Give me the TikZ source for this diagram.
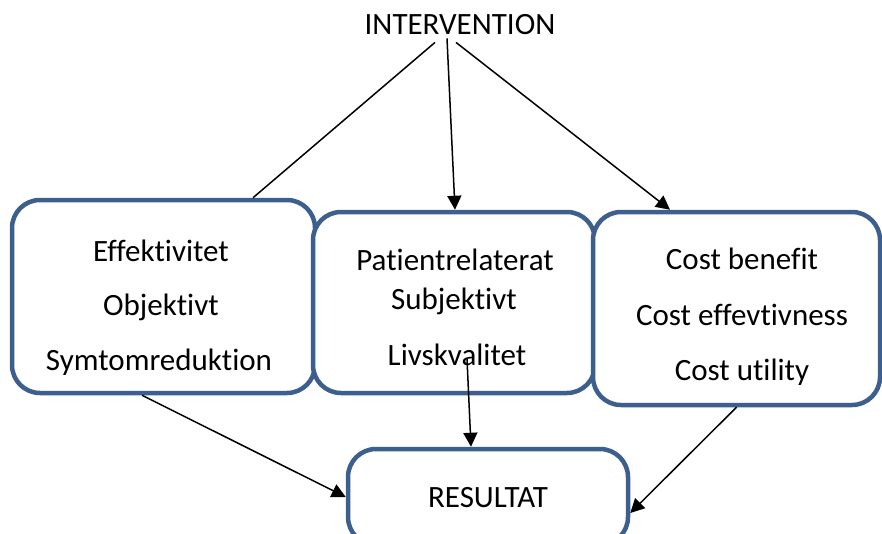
\documentclass[tikz,border=0pt]{standalone}
\usepackage{fontspec}
\setmainfont{Carlito}[Ligatures={NoCommon,NoRare,NoContextual}]
\usetikzlibrary{arrows.meta}
\definecolor{boxblue}{HTML}{3C5F8E}
\tikzset{
  box/.style={draw=boxblue,line width=4.5pt,rounded corners=28pt,fill=white,inner sep=0pt},
  txt/.style={font=\fontsize{31}{37}\selectfont,inner sep=0pt,anchor=base},
  link/.style={line width=1.5pt},
  arr/.style={link,-{Triangle[length=14pt,width=14pt]}}
}
\begin{document}
\begin{tikzpicture}[x=1pt,y=-1pt]
        \clip (0,0) rectangle (882,533);
        \node[box,minimum width=303pt,minimum height=193pt] (eff) at (163.5,296.5) {};
        \node[box,minimum width=282pt,minimum height=181pt] (pat) at (454,302.5) {};
        \node[box,minimum width=287pt,minimum height=193pt] (cost) at (736.5,308.5) {};
        \node[box,minimum width=280pt,minimum height=96pt] (res) at (488,497) {};
        \node[txt] (int) at (460,34) {INTERVENTION};
        \foreach \t/\x/\y [count=\i] in {Effektivitet/161/261,Objektivt/161/315,Symtomreduktion/159/370,
            Patientrelaterat/455/270,Subjektivt/454/309,Livskvalitet/457/365,
            Cost benefit/742/269,Cost effevtivness/742/325,Cost utility/742/380,RESULTAT/488/507} {
            \node[txt] (t\i) at (\x,\y) {\t};
          }
        \draw[link] ([xshift=-25pt,yshift=-8pt]int.south) -- ([xshift=89.5pt]eff.north);
        \draw[arr] ([xshift=-13pt,yshift=-4pt]int.south) -- ([xshift=1pt]pat.north);
        \draw[arr] ([xshift=-4pt,yshift=-8pt]int.south) -- ([xshift=-66.5pt]cost.north);
        \draw[arr] ([xshift=-21.5pt]eff.south) -- (res.west);
        \draw[arr] ([xshift=10pt,yshift=6pt]t6.base) -- ([xshift=-17pt]res.north);
        \draw[arr] (cost.south) -- ([yshift=-16pt]res.east);
      \end{tikzpicture}
\end{document}
